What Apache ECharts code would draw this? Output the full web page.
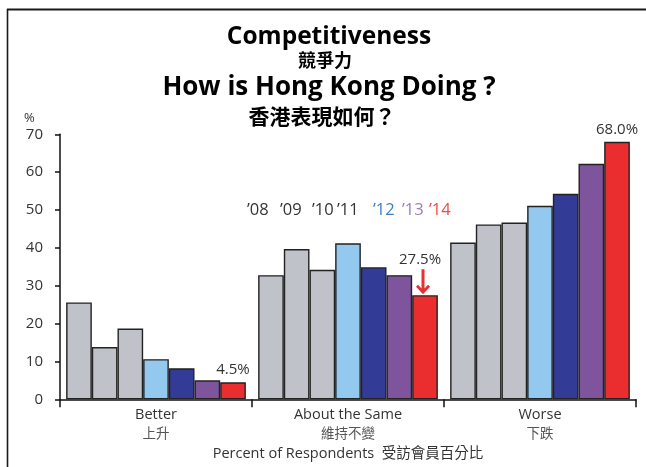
<!DOCTYPE html>
<html>
<head>
<meta charset="utf-8">
<script src="https://cdn.jsdelivr.net/npm/echarts@6/dist/echarts.min.js"></script>
<style>
  html, body { margin: 0; padding: 0; background: #fff; }
  #chart { width: 646px; height: 467px; }
</style>
</head>
<body>
<div id="chart"></div>
<script>
// Survey categories (English / Chinese)
const categories = ['Better', 'About the Same', 'Worse'];
const categoriesZh = ['上升', '維持不變', '下跌'];

// Share of respondents per year, in %
const years = ['08', '09', '10', '11', '12', '13', '14'];
const v08 = [25.6, 32.8, 41.4];
const v09 = [13.8, 39.7, 46.2];
const v10 = [18.7, 34.2, 46.7];
const v11 = [10.6, 41.2, 51.1];
const v12 = [8.2, 34.9, 54.3];
const v13 = [5.0, 32.8, 62.2];
const v14 = [4.5, 27.5, 68.0];
const yearValues = [v08, v09, v10, v11, v12, v13, v14];

// Y axis ticks
const yMin = 0, yMax = 70, yStep = 10;

const barColors = ['#BFC2C9', '#BFC2C9', '#BFC2C9', '#93C9EE', '#323B96', '#7E549D', '#EA2D2F'];
const keyColors = ['#333', '#333', '#333', '#333', '#3D7DC2', '#9B7CC0', '#EF4A4A'];
const keyX = [247, 280, 312, 337, 373, 402, 429];
const FONT = '"Open Sans", "Noto Sans CJK TC", sans-serif';
const CJK = '"Noto Sans CJK TC", sans-serif';

const chart = echarts.init(document.getElementById('chart'), null, { renderer: 'canvas' });

const arrowPath = 'path://M5.5 0 L8.5 0 L8.5 19 L12 15.3 L14 17.3 L7 24.5 L0 17.3 L2 15.3 L5.5 19 Z';

const series = yearValues.map((vals, i) => {
  const isLast = i === yearValues.length - 1;
  const s = {
    type: 'bar',
    name: "'" + years[i],
    barGap: 0,
    barCategoryGap: '6.4%',
    itemStyle: { color: barColors[i], borderColor: '#222', borderWidth: 1.4 },
    emphasis: { disabled: true },
    data: vals.map((v, k) => {
      if (!isLast) return v;
      const item = {
        value: v,
        label: {
          show: true,
          position: 'top',
          distance: 5,
          formatter: (p) => p.value.toFixed(1) + '%',
          fontFamily: FONT,
          fontSize: 15,
          color: '#333'
        }
      };
      if (k === 1) {
        item.label.distance = 28;
        item.label.offset = [-5, 0];
      }
      return item;
    })
  };
  if (isLast) {
    s.markPoint = {
      symbol: arrowPath,
      symbolSize: [14, 25],
      symbolOffset: [-2, '-54%'],
      symbolKeepAspect: false,
      itemStyle: { color: '#E8302F' },
      label: { show: false },
      silent: true,
      data: [{ coord: [categories[1], v14[1]] }]
    };
  }
  return s;
});

const yearKey = years.map((y, i) => ({
  type: 'text', x: keyX[i], y: 210,
  style: { text: '’' + y, fontFamily: FONT, fontSize: 16.5, fill: keyColors[i], align: 'left', verticalAlign: 'middle' }
}));

const option = {
  animation: false,
  textStyle: { fontFamily: FONT },
  grid: { left: 60, right: 10, top: 134.3, bottom: 67.7, containLabel: false, outerBoundsMode: 'none' },
  xAxis: {
    type: 'category',
    data: categories,
    axisLine: { lineStyle: { color: '#111', width: 1.5 } },
    axisTick: { show: true, length: 8, lineStyle: { color: '#111', width: 1.5 } },
    axisLabel: {
      margin: 7,
      interval: 0,
      formatter: (v, idx) => '{en|' + v + '}\n{zh|' + categoriesZh[idx] + '}',
      rich: {
        en: { fontFamily: FONT, fontSize: 14.5, color: '#333', lineHeight: 18 },
        zh: { fontFamily: CJK, fontSize: 13.5, color: '#555', lineHeight: 18 }
      }
    },
    name: 'Percent of Respondents  受訪會員百分比',
    nameLocation: 'middle',
    nameGap: 47,
    nameTextStyle: { fontFamily: FONT, fontSize: 14.5, color: '#333' }
  },
  yAxis: {
    type: 'value',
    min: yMin, max: yMax, interval: yStep,
    splitLine: { show: false },
    axisLine: { show: true, lineStyle: { color: '#111', width: 1.5 } },
    axisTick: { show: true, length: 5, lineStyle: { color: '#111', width: 1.5 } },
    axisLabel: { margin: 17, fontFamily: FONT, fontSize: 15, color: '#333' }
  },
  series: series,
  graphic: [
    // frame lines
    { type: 'line', shape: { x1: 7, y1: 9.5, x2: 646, y2: 9.5 }, style: { stroke: '#1a1a1a', lineWidth: 2 } },
    { type: 'line', shape: { x1: 7.5, y1: 9, x2: 7.5, y2: 467 }, style: { stroke: '#1a1a1a', lineWidth: 1.6 } },
    // titles
    { type: 'text', x: 329, y: 37, style: { text: 'Competitiveness', fontFamily: FONT, fontWeight: 'bold', fontSize: 24.5, fill: '#000', align: 'center', verticalAlign: 'middle' } },
    { type: 'text', x: 325, y: 60, style: { text: '競爭力', fontFamily: CJK, fontWeight: 'bold', fontSize: 18, fill: '#000', align: 'center', verticalAlign: 'middle' } },
    { type: 'text', x: 329, y: 88, style: { text: 'How is Hong Kong Doing ?', fontFamily: FONT, fontWeight: 'bold', fontSize: 26, fill: '#000', align: 'center', verticalAlign: 'middle' } },
    { type: 'text', x: 322, y: 116, style: { text: '香港表現如何？', fontFamily: CJK, fontWeight: 'bold', fontSize: 21, fill: '#000', align: 'center', verticalAlign: 'middle' } },
    // unit
    { type: 'text', x: 24, y: 118, style: { text: '%', fontFamily: FONT, fontSize: 13, fill: '#333', align: 'left', verticalAlign: 'middle' } }
  ].concat(yearKey)
};

chart.setOption(option);
</script>
</body>
</html>
